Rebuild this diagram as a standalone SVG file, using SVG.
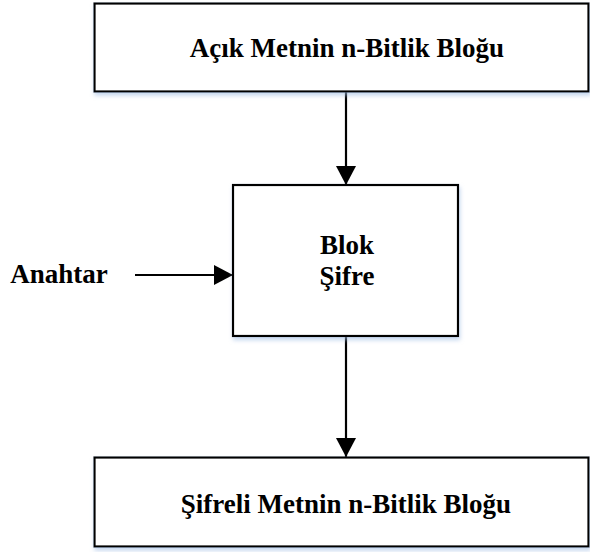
<svg xmlns="http://www.w3.org/2000/svg" width="590" height="552" viewBox="0 0 590 552">
  <style>
    .box { fill: #ffffff; stroke: #000000; stroke-width: 2.2; filter: url(#shadow); }
    .lbl { font-family: "Liberation Serif", "Times New Roman", serif; font-weight: bold; font-size: 27px; fill: #000000; text-anchor: middle; }
    .wire { stroke: #000000; stroke-width: 2.2; fill: none; marker-end: url(#head); }
  </style>
  <defs>
    <filter id="shadow" x="-5%" y="-10%" width="112%" height="130%">
      <feDropShadow dx="1" dy="3" stdDeviation="2" flood-color="#9dbbe3" flood-opacity="0.6"/>
    </filter>
    <marker id="head" markerUnits="userSpaceOnUse" markerWidth="20" markerHeight="20" viewBox="0 0 20 20" refX="19" refY="10" orient="auto">
      <path d="M0,0 L19,10 L0,20 Z" fill="#000000"/>
    </marker>
  </defs>
  <rect width="590" height="552" fill="#ffffff"/>

  <!-- arrows between the blocks -->
  <g id="connectors">
    <line class="wire" x1="346" y1="92" x2="346" y2="185"/>
    <line class="wire" x1="135" y1="275" x2="233" y2="275"/>
    <line class="wire" x1="346" y1="337" x2="346" y2="457"/>
  </g>

  <g id="plaintext-block">
    <rect class="box" x="94.5" y="3.5" width="494" height="88"/>
    <text class="lbl" x="347" y="57">Açık Metnin n-Bitlik Bloğu</text>
  </g>

  <g id="block-cipher">
    <rect class="box" x="233" y="185" width="225" height="151"/>
    <text class="lbl" x="347" y="254">Blok</text>
    <text class="lbl" x="347" y="285">Şifre</text>
  </g>

  <g id="key">
    <text class="lbl" x="59" y="283">Anahtar</text>
  </g>

  <g id="ciphertext-block">
    <rect class="box" x="94.5" y="457.5" width="494" height="89"/>
    <text class="lbl" x="346" y="513">Şifreli Metnin n-Bitlik Bloğu</text>
  </g>
</svg>
